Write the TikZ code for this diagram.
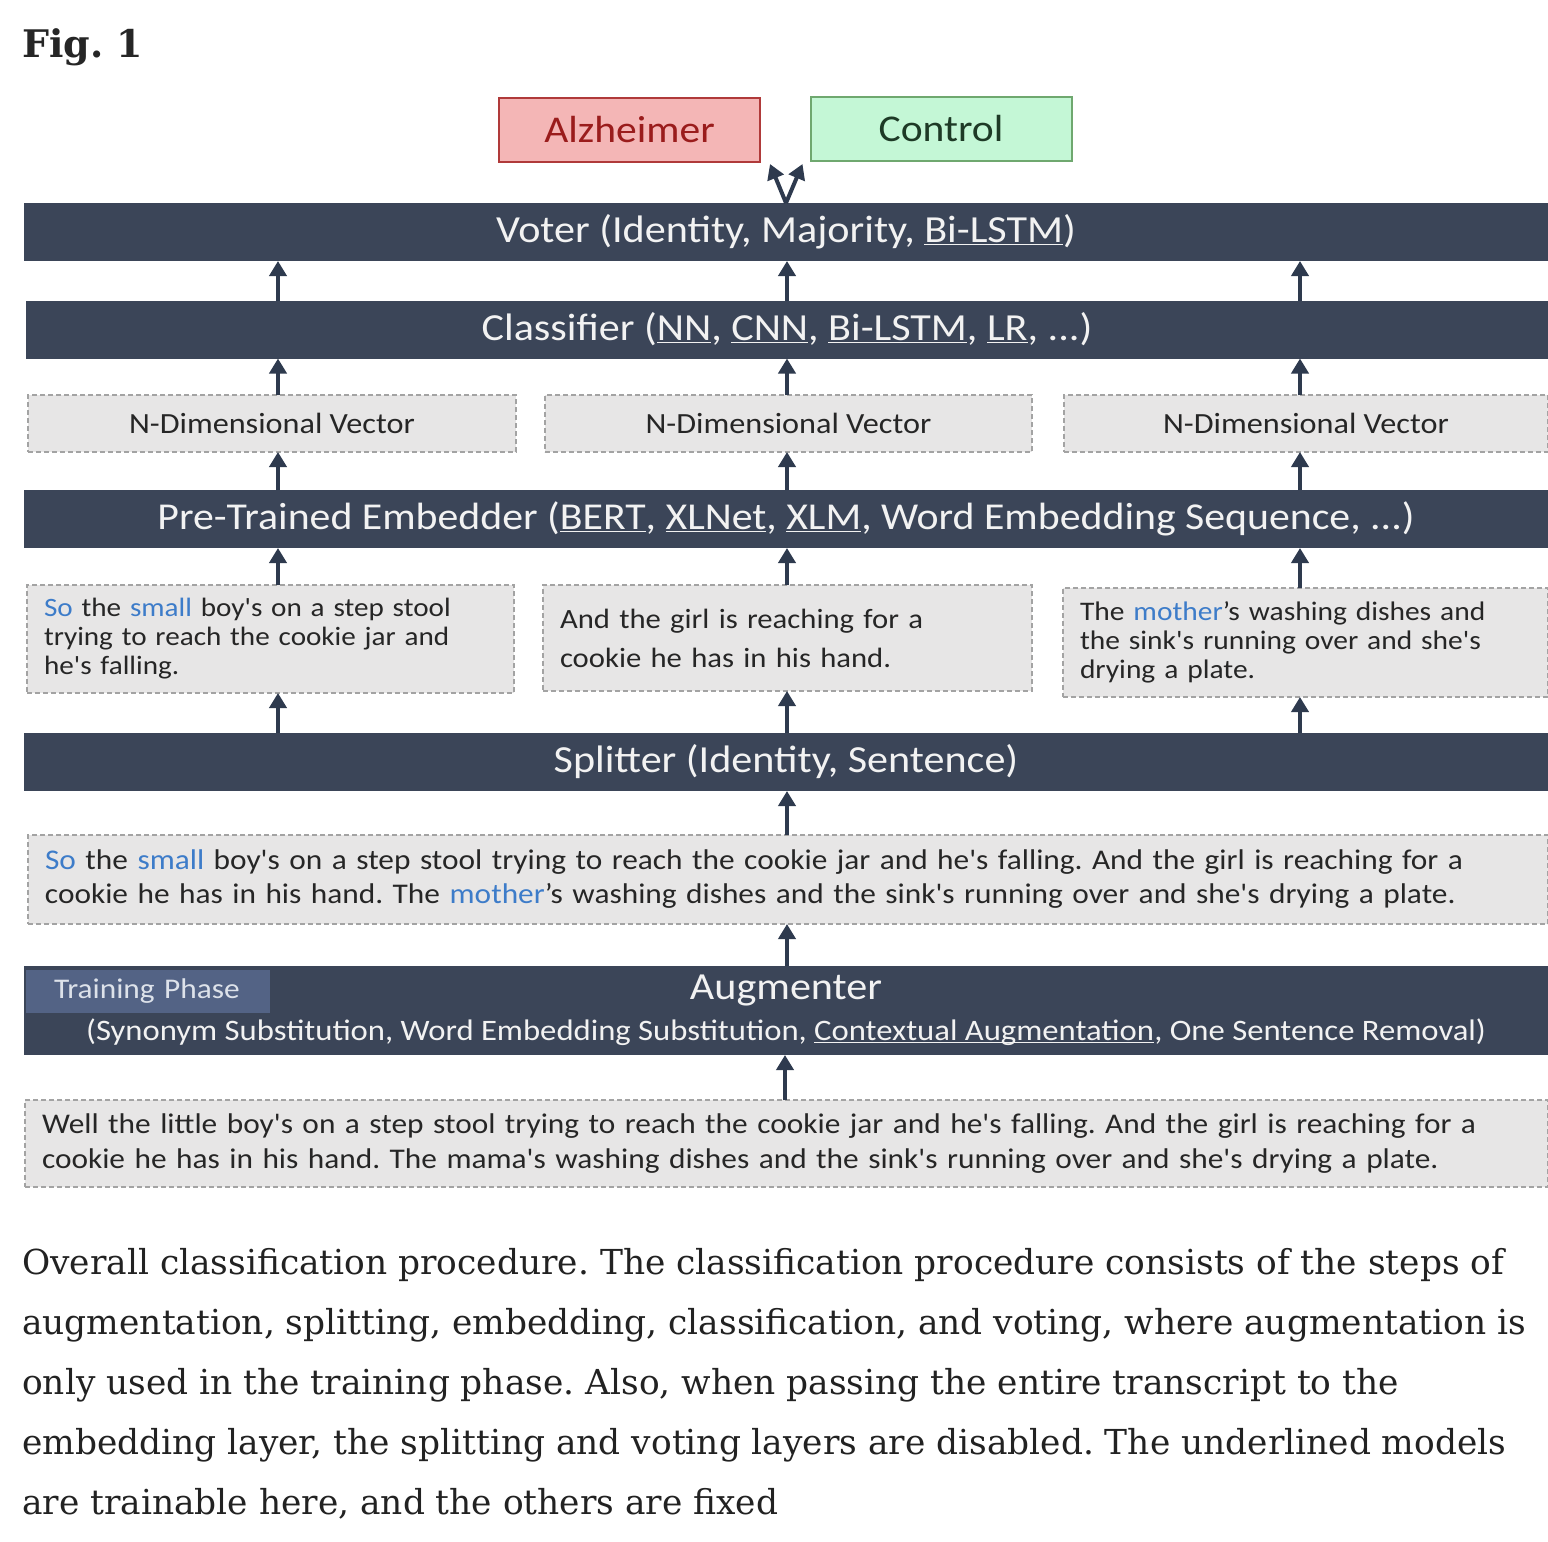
\documentclass[tikz,border=0pt]{standalone}
\usepackage{fontspec}
\setmainfont{Carlito}[Ligatures=TeXOff, FakeStretch=1.1]
\newfontfamily\capfont{DejaVu Serif}
\usetikzlibrary{arrows.meta}
\definecolor{barcol}{HTML}{3B4558}
\definecolor{arrcol}{HTML}{2E3A4E}
\definecolor{boxfill}{HTML}{E7E6E6}
\definecolor{boxline}{HTML}{A3A3A3}
\definecolor{hl}{HTML}{3D7CC9}
\definecolor{txt}{HTML}{262626}
\definecolor{bartxt}{HTML}{F2F2F2}
\definecolor{alzfill}{HTML}{F4B6B6}
\definecolor{alzline}{HTML}{B03A3A}
\definecolor{alztxt}{HTML}{9A1C1C}
\definecolor{ctlfill}{HTML}{C4F7D6}
\definecolor{ctlline}{HTML}{6FA86F}
\definecolor{ctltxt}{HTML}{1E3A26}
\definecolor{tpfill}{HTML}{536385}
\definecolor{tptxt}{HTML}{DDE2EA}
\definecolor{captxt}{HTML}{222222}
\newcommand\uln[1]{\underline{\smash{#1}}}
\newcommand\hlw[1]{{\color{hl}#1}}
\begin{document}
\frenchspacing
\begin{tikzpicture}[x=1pt,y=-1pt,
  bar/.style={fill=barcol, draw=none, text=bartxt, minimum height=58pt,
    minimum width=1524pt, inner sep=0pt, outer sep=0pt,
    font=\fontsize{38.3}{44}\selectfont},
  dbox/.style={fill=boxfill, draw=boxline, dash pattern=on 5pt off 3pt,
    line width=1.5pt, text=txt, inner sep=0pt, outer sep=0pt},
  ndbox/.style={dbox, minimum height=57pt, font=\fontsize{29.3}{34}\selectfont},
  sbox/.style={dbox, align=left, inner xsep=17pt, font=\fontsize{26.5}{29}\selectfont},
  outbox/.style={draw=#1line, fill=#1fill, text=#1txt, line width=2pt,
    minimum width=261pt, minimum height=64pt, inner sep=0pt, outer sep=0pt,
    font=\fontsize{37.8}{44}\selectfont},
  arr/.style={draw=arrcol, line width=4pt, -{Triangle[length=15pt,width=17pt]}},
  capline/.style={anchor=base west, inner sep=0pt, text=captxt,
    font=\capfont\fontsize{34.4}{60}\selectfont}
]
\useasboundingbox (0,0) rectangle (1548,1542);
\fill[white] (0,0) rectangle (1548,1542);

% title
\node[anchor=base west, inner sep=0pt, text=txt, font=\capfont\bfseries\fontsize{38}{44}\selectfont] (fig) at (22,57) {Fig. 1};

% outputs
\node[outbox=alz] (alz) at (629.5,130) {Alzheimer};
\node[outbox=ctl] (ctl) at (941,129) {Control};

% bars
\node[bar] (voter) at (786,232) {Voter (Identity, Majority, \uln{Bi-LSTM})};
\node[bar, minimum width=1522pt] (cls) at (787,329.5) {Classifier (\uln{NN}, \uln{CNN}, \uln{Bi-LSTM}, \uln{LR}, ...)};
\node[bar, font=\fontsize{38}{44}\selectfont] (emb) at (786,519) {Pre-Trained Embedder (\uln{BERT}, \uln{XLNet}, \uln{XLM}, Word Embedding Sequence, ...)};
\node[bar] (spl) at (786,762) {Splitter (Identity, Sentence)};
\node[bar, minimum height=89pt, align=center] (aug) at (786,1010.5)
  {Augmenter\\[-3pt]{\fontsize{29.7}{34}\selectfont (Synonym Substitution, Word Embedding Substitution, \uln{Contextual Augmentation}, One Sentence Removal)}};
\node[fill=tpfill, text=tptxt, minimum height=43pt, inner ysep=0pt, inner xsep=14pt,
  anchor=center, font=\fontsize{28.5}{30}\selectfont, text width=216pt, align=left] (tp) at (148,991.5) {\hspace*{14pt}Training Phase};

% vectors
\node[ndbox, minimum width=488pt] (nd1) at (272,423.5) {N-Dimensional Vector};
\node[ndbox, minimum width=487pt] (nd2) at (788.5,423.5) {N-Dimensional Vector};
\node[ndbox, minimum width=484pt] (nd3) at (1306,423.5) {N-Dimensional Vector};

% sentences
\node[sbox, minimum width=487pt, minimum height=108pt, text width=453pt,
  font=\fontsize{26.5}{29}\selectfont] (s1) at (270.5,639)
  {\hlw{So} the \hlw{small} boy's on a step stool\\trying to reach the cookie jar and\\he's falling.};
\node[sbox, minimum width=489pt, minimum height=106pt, text width=455pt,
  font=\fontsize{27.9}{39}\selectfont] (s2) at (787.5,638)
  {And the girl is reaching for a\\cookie he has in his hand.};
\node[sbox, minimum width=485pt, minimum height=109pt, text width=451pt,
  font=\fontsize{26.8}{29}\selectfont] (s3) at (1305.5,642.5)
  {The \hlw{mother}’s washing dishes and\\the sink's running over and she's\\drying a plate.};

% full texts
\node[sbox, minimum width=1520pt, minimum height=89pt, text width=1486pt,
  font=\fontsize{28.5}{34}\selectfont] (full) at (788,879.5)
  {\hlw{So} the \hlw{small} boy's on a step stool trying to reach the cookie jar and he's falling. And the girl is reaching for a\\cookie he has in his hand. The \hlw{mother}’s washing dishes and the sink's running over and she's drying a plate.};
\node[sbox, minimum width=1523pt, minimum height=87pt, text width=1489pt,
  font=\fontsize{28.5}{35}\selectfont] (orig) at (786.5,1143.5)
  {Well the little boy's on a step stool trying to reach the cookie jar and he's falling. And the girl is reaching for a\\cookie he has in his hand. The mama's washing dishes and the sink's running over and she's drying a plate.};

% column positions
\coordinate (c1) at (278,0);
\coordinate (c2) at (787,0);
\coordinate (c3) at (1300,0);

% arrows
\draw[arr] (voter.north) -- ([xshift=10pt,yshift=-2pt]alz.south east);
\draw[arr] (voter.north) -- ([xshift=-8pt,yshift=-3pt]ctl.south west);
\foreach \c in {c1,c2,c3}{
  \draw[arr] (cls.north -| \c) -- (voter.south -| \c);
}
\draw[arr] (nd1.north -| c1) -- (cls.south -| c1);
\draw[arr] (nd2.north -| c2) -- (cls.south -| c2);
\draw[arr] (nd3.north -| c3) -- (cls.south -| c3);
\draw[arr] (emb.north -| c1) -- (nd1.south -| c1);
\draw[arr] (emb.north -| c2) -- (nd2.south -| c2);
\draw[arr] (emb.north -| c3) -- (nd3.south -| c3);
\draw[arr] (s1.north -| c1) -- (emb.south -| c1);
\draw[arr] (s2.north -| c2) -- (emb.south -| c2);
\draw[arr] (s3.north -| c3) -- (emb.south -| c3);
\draw[arr] (spl.north -| c1) -- (s1.south -| c1);
\draw[arr] (spl.north -| c2) -- (s2.south -| c2);
\draw[arr] (spl.north -| c3) -- (s3.south -| c3);
\draw[arr] (full.north -| c2) -- (spl.south -| c2);
\draw[arr] (aug.north -| c2) -- (full.south -| c2);
\draw[arr] ([xshift=-2pt]orig.north -| c2) -- ([xshift=-2pt]aug.south -| c2);

% caption
\node[capline] (cap1) at (22,1274) {Overall classification procedure. The classification procedure consists of the steps of};
\node[capline] (cap2) at (22,1334) {augmentation, splitting, embedding, classification, and voting, where augmentation is};
\node[capline] (cap3) at (22,1394) {only used in the training phase. Also, when passing the entire transcript to the};
\node[capline] (cap4) at (22,1454) {embedding layer, the splitting and voting layers are disabled. The underlined models};
\node[capline] (cap5) at (22,1514) {are trainable here, and the others are fixed};
\end{tikzpicture}
\end{document}
